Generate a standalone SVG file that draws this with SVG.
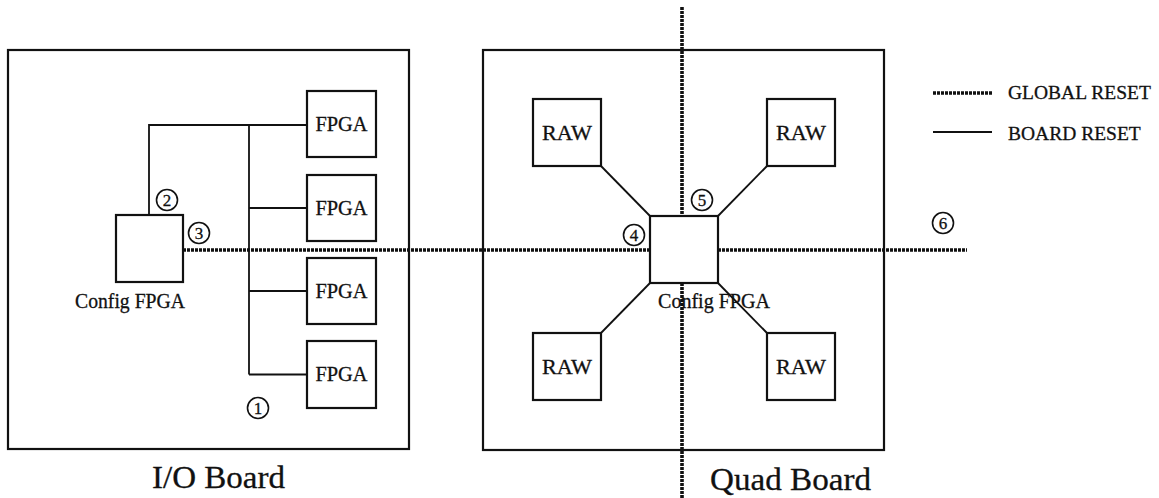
<svg xmlns="http://www.w3.org/2000/svg" width="1159" height="498" viewBox="0 0 1159 498">
<style>
.box{fill:none;stroke:#111;stroke-width:2.2}
.wire{fill:none;stroke:#111;stroke-width:1.8}
.glob{fill:none;stroke:#111;stroke-width:3.6;stroke-dasharray:3 1}
.t{font-family:"Liberation Serif","Times New Roman",serif;font-size:21px;fill:#111;stroke:#111;stroke-width:0.3}
.leg{font-family:"Liberation Serif","Times New Roman",serif;font-size:19.5px;fill:#111;stroke:#111;stroke-width:0.3}
.big{font-family:"Liberation Serif","Times New Roman",serif;font-size:32px;fill:#111;stroke:#111;stroke-width:0.3}
.num{font-family:"Liberation Serif","Times New Roman",serif;font-size:17px;fill:#111;text-anchor:middle;stroke:#111;stroke-width:0.3}
.circ{fill:none;stroke:#111;stroke-width:1.6}
</style>
<rect width="1159" height="498" fill="#fff"/>
<g id="io-board">
<rect class="box" x="8" y="50" width="401" height="399"/>
<text class="big" x="152" y="488" textLength="133" lengthAdjust="spacingAndGlyphs">I/O Board</text>
</g>
<g id="quad-board">
<rect class="box" x="483" y="50" width="401" height="400"/>
<text class="big" x="710" y="490" textLength="161" lengthAdjust="spacingAndGlyphs">Quad Board</text>
</g>
<g id="config-fpga-io">
<rect class="box" x="116" y="215" width="67" height="67"/>
<text class="t" x="75" y="308" textLength="110" lengthAdjust="spacingAndGlyphs">Config FPGA</text>
</g>
<g id="fpga1"><rect class="box" x="307" y="91" width="69" height="66"/><text class="t" x="341.5" y="131" text-anchor="middle" textLength="52" lengthAdjust="spacingAndGlyphs">FPGA</text></g>
<g id="fpga2"><rect class="box" x="307" y="175" width="69" height="66"/><text class="t" x="341.5" y="215" text-anchor="middle" textLength="52" lengthAdjust="spacingAndGlyphs">FPGA</text></g>
<g id="fpga3"><rect class="box" x="307" y="258" width="69" height="66"/><text class="t" x="341.5" y="298" text-anchor="middle" textLength="52" lengthAdjust="spacingAndGlyphs">FPGA</text></g>
<g id="fpga4"><rect class="box" x="307" y="341" width="69" height="67"/><text class="t" x="341.5" y="381" text-anchor="middle" textLength="52" lengthAdjust="spacingAndGlyphs">FPGA</text></g>
<g id="raw-tl"><rect class="box" x="533" y="99" width="68" height="67"/><text class="t" x="567" y="140" text-anchor="middle" textLength="50" lengthAdjust="spacingAndGlyphs">RAW</text></g>
<g id="raw-tr"><rect class="box" x="767" y="99" width="68" height="67"/><text class="t" x="801" y="140" text-anchor="middle" textLength="50" lengthAdjust="spacingAndGlyphs">RAW</text></g>
<g id="raw-bl"><rect class="box" x="533" y="333" width="68" height="67"/><text class="t" x="567" y="374" text-anchor="middle" textLength="50" lengthAdjust="spacingAndGlyphs">RAW</text></g>
<g id="raw-br"><rect class="box" x="767" y="333" width="68" height="67"/><text class="t" x="801" y="374" text-anchor="middle" textLength="50" lengthAdjust="spacingAndGlyphs">RAW</text></g>
<g id="config-fpga-quad">
<rect class="box" x="650" y="216" width="68" height="67"/>
<text class="t" x="658" y="308" textLength="112" lengthAdjust="spacingAndGlyphs">Config FPGA</text>
</g>
<g id="connectors">
<polyline class="wire" points="149,215 149,125 307,125"/>
<line class="wire" x1="249" y1="125" x2="249" y2="374.5"/>
<line class="wire" x1="249" y1="208" x2="307" y2="208"/>
<line class="wire" x1="249" y1="291" x2="307" y2="291"/>
<line class="wire" x1="249" y1="374.5" x2="307" y2="374.5"/>
<line class="wire" x1="601" y1="166" x2="650" y2="216"/>
<line class="wire" x1="767" y1="166" x2="718" y2="216"/>
<line class="wire" x1="601" y1="333" x2="650" y2="283"/>
<line class="wire" x1="767" y1="333" x2="718" y2="283"/>
<line class="glob" x1="183" y1="250" x2="650" y2="250"/>
<line class="glob" x1="718" y1="250" x2="967" y2="250"/>
<line class="glob" x1="682" y1="7" x2="682" y2="216"/>
<line class="glob" x1="682" y1="283" x2="682" y2="498"/>
</g>
<g id="labels">
<circle class="circ" cx="258" cy="408" r="10.5"/><text class="num" x="258" y="414">1</text>
<circle class="circ" cx="167" cy="200" r="10.5"/><text class="num" x="167" y="206">2</text>
<circle class="circ" cx="199" cy="233" r="10.5"/><text class="num" x="199" y="239">3</text>
<circle class="circ" cx="634" cy="235" r="10.5"/><text class="num" x="634" y="241">4</text>
<circle class="circ" cx="702" cy="200" r="10.5"/><text class="num" x="702" y="206">5</text>
<circle class="circ" cx="943" cy="223" r="10.5"/><text class="num" x="943" y="229">6</text>
</g>
<g id="legend">
<line class="glob" x1="933" y1="93" x2="992" y2="93"/>
<text class="leg" x="1008" y="99">GLOBAL RESET</text>
<line class="wire" x1="933" y1="132" x2="992" y2="132"/>
<text class="leg" x="1008" y="140">BOARD RESET</text>
</g>
</svg>
